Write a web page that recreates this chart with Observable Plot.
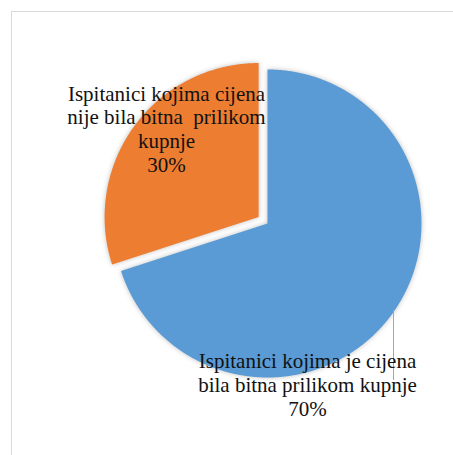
<!DOCTYPE html>
<html>
<head>
<meta charset="utf-8">
<script src="https://cdn.jsdelivr.net/npm/d3@7"></script>
<script src="https://cdn.jsdelivr.net/npm/@observablehq/plot@0.6"></script>
<style>
  html, body { margin: 0; padding: 0; background: #fff; }
  #wrap { position: relative; width: 453px; height: 455px; overflow: hidden; }
  #frame { position: absolute; left: 11px; top: 11px; width: 460px; height: 460px; border: 1px solid #d9d9d9; box-sizing: border-box; pointer-events: none; }
  #chart { position: absolute; left: 0; top: 0; }
  #chart g[aria-label="line"] { filter: drop-shadow(0px 0px 2.5px rgba(0,0,0,0.25)); }
</style>
</head>
<body>
<div id="wrap"><div id="frame"></div><div id="chart"></div></div>
<script>
const categories = [
  "Ispitanici kojima je cijena\nbila bitna prilikom kupnje",
  "Ispitanici kojima cijena\nnije bila bitna  prilikom\nkupnje"
];
const values = [70, 30];
const percentLabels = ["70%", "30%"];
const colors = ["#5B9BD5", "#ED7D31"];
const explode = [0, 11];

const W = 453, H = 455;
const cx = 267, cy = 223, R = 154;

const arcs = d3.pie().sort(null).startAngle(0).endAngle(2 * Math.PI)(values);
const pts = [];
arcs.forEach((a, i) => {
  const mid = (a.startAngle + a.endAngle) / 2;
  const ox = explode[i] * Math.sin(mid), oy = -explode[i] * Math.cos(mid);
  const ccx = cx + ox, ccy = cy + oy;
  pts.push({k: i, x: ccx, y: ccy});
  const n = Math.max(2, Math.ceil((a.endAngle - a.startAngle) / 0.005));
  for (let j = 0; j <= n; j++) {
    const t = a.startAngle + (a.endAngle - a.startAngle) * j / n;
    pts.push({k: i, x: ccx + R * Math.sin(t), y: ccy - R * Math.cos(t)});
  }
  pts.push({k: i, x: ccx, y: ccy});
});

const labels = [
  {k: 0, label: categories[0] + "\n" + percentLabels[0], x: 307, y: 384},
  {k: 1, label: categories[1] + "\n" + percentLabels[1], x: 166, y: 128}
];

const chart = Plot.plot({
  width: W, height: H,
  margin: 0,
  x: {domain: [0, W], range: [0, W], axis: null},
  y: {domain: [0, H], range: [0, H], axis: null},
  style: {background: "transparent"},
  marks: [
    Plot.line(pts, {x: "x", y: "y", z: "k", fill: d => colors[d.k], stroke: "none", curve: "linear"}),
    Plot.ruleX([393], {y1: 310, y2: 380, stroke: "#a6a6a6", strokeWidth: 1}),
    Plot.text(labels, {
      x: "x", y: "y", text: "label",
      fontFamily: "Liberation Serif",
      fontSize: 21, lineHeight: 1.13, fill: "#111",
      textAnchor: "middle", lineAnchor: "middle"
    })
  ]
});
document.getElementById("chart").appendChild(chart);
chart.querySelectorAll('g[aria-label="text"], g[aria-label="text"] text, g[aria-label="text"] tspan').forEach(el => {
  el.setAttribute("font-family", "Liberation Serif");
  el.style.fontFamily = "'Liberation Serif', 'Times New Roman', serif";
});
</script>
</body>
</html>
